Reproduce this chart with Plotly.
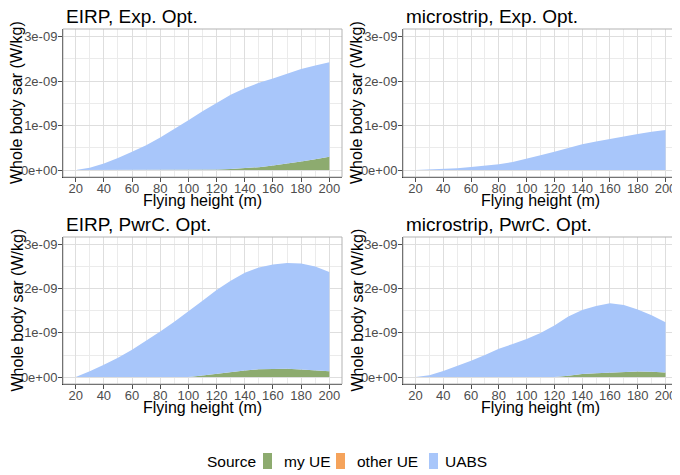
import plotly.graph_objects as go

# ---------------- data ----------------
heights = [20, 30, 40, 50, 60, 70, 80, 90, 100, 110, 120, 130, 140, 150, 160, 170, 180, 190, 200]
sources = ["my UE", "other UE", "UABS"]
panel_titles = ["EIRP, Exp. Opt.", "microstrip, Exp. Opt.", "EIRP, PwrC. Opt.", "microstrip, PwrC. Opt."]

# values in 1e-9 W/kg
eirp_exp_my_ue = [0, 0, 0, 0, 0, 0, 0, 0, 0, 0, 0.01, 0.025, 0.04, 0.065, 0.10, 0.14, 0.19, 0.245, 0.30]
eirp_exp_other_ue = [0] * 19
eirp_exp_uabs = [0, 0.05, 0.15, 0.27, 0.41, 0.56, 0.73, 0.92, 1.12, 1.32, 1.50, 1.665, 1.80, 1.895, 1.96, 2.03, 2.08, 2.105, 2.12]

micro_exp_my_ue = [0] * 19
micro_exp_other_ue = [0] * 19
micro_exp_uabs = [0, 0.01, 0.02, 0.04, 0.07, 0.10, 0.13, 0.18, 0.25, 0.33, 0.41, 0.50, 0.58, 0.64, 0.70, 0.75, 0.81, 0.86, 0.90]

eirp_pwr_my_ue = [0, 0, 0, 0, 0, 0, 0, 0, 0, 0.035, 0.075, 0.115, 0.15, 0.175, 0.19, 0.19, 0.17, 0.155, 0.135]
eirp_pwr_other_ue = [0] * 19
eirp_pwr_uabs = [0, 0.13, 0.28, 0.44, 0.62, 0.82, 1.03, 1.25, 1.48, 1.695, 1.895, 2.065, 2.21, 2.305, 2.36, 2.39, 2.40, 2.345, 2.245]

micro_pwr_my_ue = [0, 0, 0, 0, 0, 0, 0, 0, 0, 0, 0, 0.03, 0.07, 0.09, 0.105, 0.12, 0.125, 0.12, 0.105]
micro_pwr_other_ue = [0] * 19
micro_pwr_uabs = [0, 0.04, 0.14, 0.25, 0.37, 0.50, 0.64, 0.75, 0.86, 1.00, 1.17, 1.34, 1.45, 1.52, 1.565, 1.51, 1.405, 1.28, 1.135]

y_tick_vals = [0, 1e-9, 2e-9, 3e-9]
y_tick_text = ["0e+00", "1e-09", "2e-09", "3e-09"]
x_tick_vals = [20, 40, 60, 80, 100, 120, 140, 160, 180, 200]

colors = {"my UE": "#8DAB6F", "other UE": "#F5A35B", "UABS": "#A8C6FA"}

panels = [
    (eirp_exp_my_ue, eirp_exp_other_ue, eirp_exp_uabs),
    (micro_exp_my_ue, micro_exp_other_ue, micro_exp_uabs),
    (eirp_pwr_my_ue, eirp_pwr_other_ue, eirp_pwr_uabs),
    (micro_pwr_my_ue, micro_pwr_other_ue, micro_pwr_uabs),
]

# ---------------- layout geometry (page pixels) ----------------
OFF = 8                      # page body margin
W, H = 680 - OFF, 475 - OFF  # figure size


def px(x):
    return (x - OFF) / W


def py(y):
    return 1 - (y - OFF) / H


px_x = [(63, 342), (403, 678), (63, 342), (403, 678)]
px_y = [(29, 177), (29, 177), (237, 384), (237, 384)]

FONT = "Liberation Sans, Arial, sans-serif"
fig = go.Figure()
shapes = []

for i, (series, xs, ys) in enumerate(zip(panels, px_x, px_y)):
    ax = "" if i == 0 else str(i + 1)
    for name, vals in zip(sources, series):
        fig.add_trace(go.Scatter(
            x=heights, y=[v * 1e-9 for v in vals],
            mode="lines", line=dict(width=0, color=colors[name]),
            fillcolor=colors[name], stackgroup=f"s{i}",
            name=name, showlegend=False,
            xaxis="x" + ax, yaxis="y" + ax, hoverinfo="skip",
        ))
    common = dict(showgrid=True, gridcolor="#DEDEDE", gridwidth=1,
                  showline=True, mirror=False, linecolor="#333333", linewidth=1,
                  ticks="outside", ticklen=4, tickcolor="#4D4D4D", tickwidth=1,
                  zeroline=False, tickfont=dict(family=FONT, size=13, color="#4D4D4D"))
    fig.update_layout(**{
        "xaxis" + ax: dict(domain=[px(xs[0]), px(xs[1])], anchor="y" + ax,
                           range=[11, 209], tickvals=x_tick_vals, ticklabelstandoff=-5,
                           minor=dict(tickvals=[30, 50, 70, 90, 110, 130, 150, 170, 190],
                                      showgrid=True, gridcolor="#EBEBEB", ticks=""),
                           **common),
        "yaxis" + ax: dict(domain=[py(ys[1]), py(ys[0])], anchor="x" + ax,
                           range=[-0.156e-9, 3.17e-9], tickvals=y_tick_vals, ticktext=y_tick_text,
                           ticklabelstandoff=-2,
                           minor=dict(tickvals=[0.5e-9, 1.5e-9, 2.5e-9],
                                      showgrid=True, gridcolor="#EBEBEB", ticks=""),
                           **common),
    })
    # light panel border (top / right)
    shapes.append(dict(type="rect", xref="paper", yref="paper",
                       x0=px(xs[0]), x1=px(xs[1]), y0=py(ys[1]), y1=py(ys[0]),
                       line=dict(color="#B3B3B3", width=1), fillcolor="rgba(0,0,0,0)", layer="above"))
    # panel title
    fig.add_annotation(text=panel_titles[i], x=px(xs[0] + 1), y=py(ys[0] - 12.5),
                       xref="paper", yref="paper", xanchor="left", yanchor="middle",
                       showarrow=False, font=dict(family=FONT, size=19, color="black"))
    # x axis title
    fig.add_annotation(text="Flying height (m)", x=px((xs[0] + xs[1]) / 2), y=py(ys[1] + 23.5),
                       xref="paper", yref="paper", xanchor="center", yanchor="middle",
                       showarrow=False, font=dict(family=FONT, size=16, color="black"))
    # y axis title
    fig.add_annotation(text="Whole body sar (W/kg)", x=px(xs[0] - 46), y=py((ys[0] + ys[1]) / 2),
                       xref="paper", yref="paper", xanchor="center", yanchor="middle",
                       textangle=-90, showarrow=False, font=dict(family=FONT, size=16, color="black"))

# ---------------- legend (bottom, horizontal) ----------------
leg_y = 461.5
fig.add_annotation(text="Source", x=px(205), y=py(leg_y), xref="paper", yref="paper",
                   xanchor="left", yanchor="middle", showarrow=False,
                   font=dict(family=FONT, size=15.5, color="black"))
key_x = [263, 336, 429]
label_x = [282, 355, 443]
for name, kx, lx in zip(sources, key_x, label_x):
    shapes.append(dict(type="rect", xref="paper", yref="paper",
                       x0=px(kx), x1=px(kx + 9), y0=py(469), y1=py(453),
                       line=dict(width=0), fillcolor=colors[name]))
    fig.add_annotation(text=name, x=px(lx), y=py(leg_y), xref="paper", yref="paper",
                       xanchor="left", yanchor="middle", showarrow=False,
                       font=dict(family=FONT, size=15.5, color="black"))

fig.update_layout(
    width=W, height=H, margin=dict(l=0, r=0, t=0, b=0),
    paper_bgcolor="white", plot_bgcolor="white",
    font=dict(family=FONT, color="black"),
    showlegend=False, shapes=shapes,
)

fig.write_html("out.html")
